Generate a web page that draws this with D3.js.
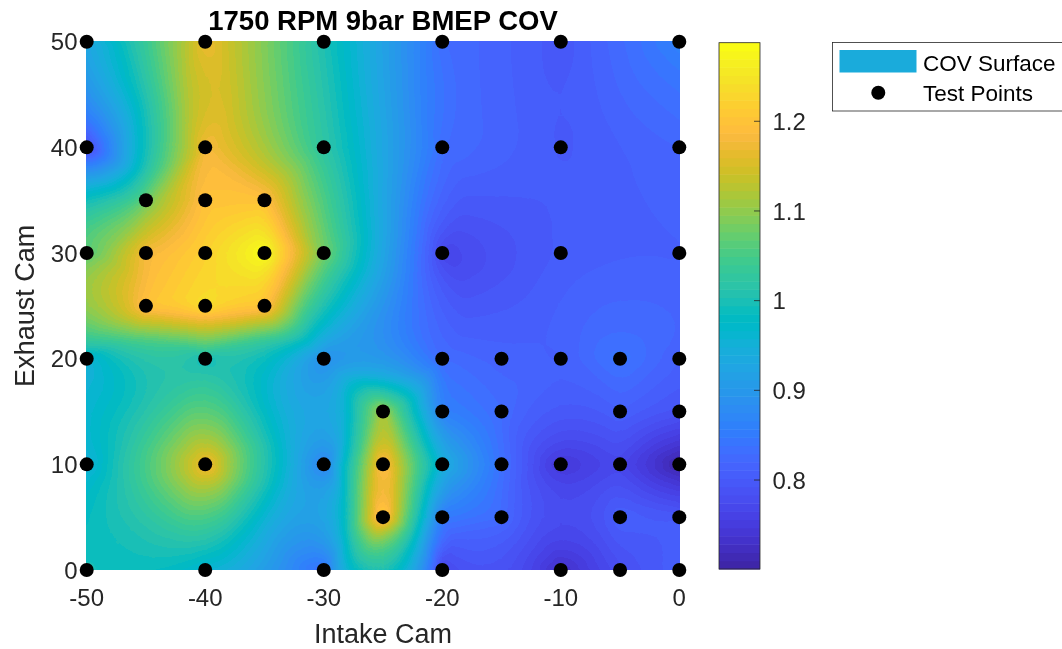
<!DOCTYPE html>
<html>
<head>
<meta charset="utf-8">
<script src="https://cdn.jsdelivr.net/npm/d3@7"></script>
<style>
  html, body { margin: 0; padding: 0; background: #fff; }
  #wrap { position: relative; width: 1062px; height: 649px; overflow: hidden; }
  #surf, #ov { position: absolute; left: 0; top: 0; }
  text { font-family: "Liberation Sans", Arial, Helvetica, sans-serif; }
</style>
</head>
<body>
<div id="wrap">
  <canvas id="surf" width="1062" height="649"></canvas>
  <svg id="ov" width="1062" height="649"></svg>
</div>
<script>
// ---------------- DATA ----------------
const intakeCam = [
  -50, -40, -30, -20, -10, 0,
  -50, -40, -30, -20, -10, 0,
  -45, -40, -35,
  -50, -45, -40, -35, -30, -20, -10, 0,
  -45, -40, -35,
  -50, -40, -30, -20, -15, -10, -5, 0,
  -25, -20, -15, -5, 0,
  -50, -40, -30, -25, -20, -15, -10, -5, 0,
  -25, -20, -15, -5, 0,
  -50, -40, -30, -20, -10, -5, 0
];
const exhaustCam = [
  50, 50, 50, 50, 50, 50,
  40, 40, 40, 40, 40, 40,
  35, 35, 35,
  30, 30, 30, 30, 30, 30, 30, 30,
  25, 25, 25,
  20, 20, 20, 20, 20, 20, 20, 20,
  15, 15, 15, 15, 15,
  10, 10, 10, 10, 10, 10, 10, 10, 10,
  5, 5, 5, 5, 5,
  0, 0, 0, 0, 0, 0, 0
];
const covValues = [
  0.93, 1.17, 1.00, 0.83, 0.795, 0.865,
  0.78, 1.18, 1.02, 0.83, 0.80, 0.82,
  1.08, 1.20, 1.20,
  1.06, 1.18, 1.22, 1.2876, 1.08, 0.765, 0.805, 0.81,
  1.20, 1.24, 1.20,
  0.95, 0.995, 0.88, 0.83, 0.815, 0.81, 0.845, 0.81,
  1.12, 0.86, 0.83, 0.81, 0.79,
  0.95, 1.18, 0.855, 1.20, 0.95, 0.835, 0.742, 0.77, 0.7008,
  1.22, 0.85, 0.83, 0.81, 0.80,
  1.00, 0.95, 0.83, 0.765, 0.725, 0.78, 0.81
];
const xTicks = [-50, -40, -30, -20, -10, 0];
const yTicks = [0, 10, 20, 30, 40, 50];
const cbTicks = [0.8, 0.9, 1, 1.1, 1.2];
const titleText = "1750 RPM 9bar BMEP COV";
const xLabel = "Intake Cam";
const yLabel = "Exhaust Cam";
const legendLabels = ["COV Surface", "Test Points"];

// parula (64 entries)
const parula = [
[0.2422,0.1504,0.6603],[0.2504,0.1650,0.7076],[0.2578,0.1818,0.7511],[0.2647,0.1978,0.7952],
[0.2706,0.2147,0.8364],[0.2751,0.2342,0.8710],[0.2783,0.2559,0.8991],[0.2803,0.2782,0.9221],
[0.2813,0.3006,0.9414],[0.2810,0.3228,0.9579],[0.2795,0.3447,0.9717],[0.2760,0.3667,0.9829],
[0.2699,0.3892,0.9906],[0.2602,0.4123,0.9952],[0.2440,0.4358,0.9988],[0.2206,0.4603,0.9973],
[0.1963,0.4847,0.9892],[0.1834,0.5074,0.9798],[0.1786,0.5289,0.9682],[0.1764,0.5499,0.9520],
[0.1687,0.5703,0.9359],[0.1540,0.5902,0.9218],[0.1460,0.6091,0.9079],[0.1380,0.6276,0.8973],
[0.1248,0.6459,0.8883],[0.1113,0.6635,0.8763],[0.0952,0.6798,0.8598],[0.0689,0.6948,0.8394],
[0.0297,0.7082,0.8163],[0.0036,0.7203,0.7917],[0.0067,0.7312,0.7660],[0.0433,0.7411,0.7394],
[0.0964,0.7500,0.7120],[0.1408,0.7584,0.6842],[0.1717,0.7670,0.6554],[0.1938,0.7758,0.6251],
[0.2161,0.7843,0.5923],[0.2470,0.7918,0.5567],[0.2906,0.7973,0.5188],[0.3406,0.8008,0.4789],
[0.3909,0.8029,0.4354],[0.4456,0.8024,0.3909],[0.5044,0.7993,0.3480],[0.5616,0.7942,0.3045],
[0.6174,0.7876,0.2612],[0.6720,0.7793,0.2227],[0.7242,0.7698,0.1910],[0.7738,0.7598,0.1646],
[0.8203,0.7498,0.1535],[0.8634,0.7406,0.1596],[0.9035,0.7330,0.1774],[0.9393,0.7288,0.2100],
[0.9728,0.7298,0.2394],[0.9956,0.7434,0.2371],[0.9970,0.7659,0.2199],[0.9952,0.7893,0.2028],
[0.9892,0.8136,0.1885],[0.9786,0.8386,0.1766],[0.9676,0.8639,0.1643],[0.9610,0.8890,0.1537],
[0.9597,0.9135,0.1423],[0.9628,0.9373,0.1265],[0.9691,0.9606,0.1064],[0.9769,0.9839,0.0805]
].map(c => c.map(v => Math.round(v * 255)));

// ---------------- LAYOUT ----------------
const plot = { x0: 86.7, x1: 679.3, y0: 41.7, y1: 570 };
const cb = { x: 719, y: 42.7, w: 41, h: 526.3 };
const TXT = "#262626";

const xScale = d3.scaleLinear().domain([-50, 0]).range([plot.x0, plot.x1]);
const yScale = d3.scaleLinear().domain([0, 50]).range([plot.y1, plot.y0]);
const clim = d3.extent(covValues);
const cScale = d3.scaleLinear().domain(clim).range([0, 64]);
const cbScale = d3.scaleLinear().domain(clim).range([cb.y + cb.h, cb.y]);
const colorIndex = v => Math.max(0, Math.min(63, Math.floor(cScale(v))));
const rgbStr = c => `rgb(${c[0]},${c[1]},${c[2]})`;

// ---------------- NATURAL-NEIGHBOUR SURFACE (discrete Sibson) ----------------
const xDom = xScale.domain(), yDom = yScale.domain();
const step = 0.2;
const NX = Math.round((xDom[1] - xDom[0]) / step) + 1;
const NY = Math.round((yDom[1] - yDom[0]) / step) + 1;
const sum = new Float64Array(NX * NY), cnt = new Float64Array(NX * NY);
const nSites = covValues.length;
for (let j = 0; j < NY; j++) {
  const py = yDom[0] + j * step;
  for (let i = 0; i < NX; i++) {
    const px = xDom[0] + i * step;
    let best = Infinity, bi = 0;
    for (let s = 0; s < nSites; s++) {
      const dx = intakeCam[s] - px, dy = exhaustCam[s] - py;
      const d2 = dx * dx + dy * dy;
      if (d2 < best) { best = d2; bi = s; }
    }
    const rc = Math.sqrt(best) / step;
    const r2 = rc * rc + 1e-9;
    const R = Math.floor(rc);
    const v = covValues[bi];
    const j0 = Math.max(0, j - R), j1 = Math.min(NY - 1, j + R);
    for (let jj = j0; jj <= j1; jj++) {
      const dj = jj - j;
      const rem = r2 - dj * dj;
      if (rem < 0) continue;
      const w = Math.floor(Math.sqrt(rem));
      const i0 = Math.max(0, i - w), i1 = Math.min(NX - 1, i + w);
      const base = jj * NX;
      for (let ii = i0; ii <= i1; ii++) { sum[base + ii] += v; cnt[base + ii] += 1; }
    }
  }
}
const grid = new Float64Array(NX * NY);
for (let k = 0; k < grid.length; k++) grid[k] = sum[k] / cnt[k];
for (let s = 0; s < nSites; s++) {
  const i = Math.round((intakeCam[s] - xDom[0]) / step), j = Math.round((exhaustCam[s] - yDom[0]) / step);
  grid[j * NX + i] = covValues[s];
}
function sampleGrid(xd, yd) {
  let fx = (xd - xDom[0]) / step, fy = (yd - yDom[0]) / step;
  fx = Math.max(0, Math.min(NX - 1.000001, fx));
  fy = Math.max(0, Math.min(NY - 1.000001, fy));
  const i = Math.floor(fx), j = Math.floor(fy), tx = fx - i, ty = fy - j;
  const a = grid[j * NX + i], b = grid[j * NX + i + 1];
  const c = grid[(j + 1) * NX + i], d = grid[(j + 1) * NX + i + 1];
  return (a * (1 - tx) + b * tx) * (1 - ty) + (c * (1 - tx) + d * tx) * ty;
}

const canvas = document.getElementById("surf");
const ctx = canvas.getContext("2d");
const W = canvas.width, H = canvas.height;
const img = ctx.createImageData(W, H);
for (let py = Math.floor(plot.y0); py < Math.ceil(plot.y1); py++) {
  for (let px = Math.floor(plot.x0); px < Math.ceil(plot.x1); px++) {
    const xd = xScale.invert(Math.min(Math.max(px + 0.5, plot.x0), plot.x1));
    const yd = yScale.invert(Math.min(Math.max(py + 0.5, plot.y0), plot.y1));
    const col = parula[colorIndex(sampleGrid(xd, yd))];
    const o = (py * W + px) * 4;
    img.data[o] = col[0]; img.data[o + 1] = col[1]; img.data[o + 2] = col[2]; img.data[o + 3] = 255;
  }
}
ctx.putImageData(img, 0, 0);

// ---------------- SVG OVERLAY ----------------
const svg = d3.select("#ov");

svg.append("g").selectAll("circle")
  .data(intakeCam.map((x, i) => [x, exhaustCam[i]]))
  .join("circle")
  .attr("cx", d => xScale(d[0]))
  .attr("cy", d => yScale(d[1]))
  .attr("r", 7)
  .attr("fill", "#000");

svg.append("g").selectAll("text").data(xTicks).join("text")
  .attr("x", d => xScale(d)).attr("y", 606)
  .attr("text-anchor", "middle").attr("font-size", 24).attr("fill", TXT)
  .text(d => d);

svg.append("g").selectAll("text").data(yTicks).join("text")
  .attr("x", 77.5).attr("y", d => yScale(d) + 8.6)
  .attr("text-anchor", "end").attr("font-size", 24).attr("fill", TXT)
  .text(d => d);

svg.append("text").attr("x", (plot.x0 + plot.x1) / 2).attr("y", 643)
  .attr("text-anchor", "middle").attr("font-size", 27).attr("fill", TXT).text(xLabel);
svg.append("text")
  .attr("transform", `translate(33.5,${(plot.y0 + plot.y1) / 2}) rotate(-90)`)
  .attr("text-anchor", "middle").attr("font-size", 27).attr("fill", TXT).text(yLabel);

svg.append("text").attr("x", (plot.x0 + plot.x1) / 2).attr("y", 30)
  .attr("text-anchor", "middle").attr("font-size", 27.5).attr("font-weight", "bold")
  .attr("fill", "#000").text(titleText);

const cbG = svg.append("g");
const bandStep = (clim[1] - clim[0]) / 64;
cbG.selectAll("rect.band").data(d3.range(64)).join("rect")
  .attr("class", "band")
  .attr("x", cb.x)
  .attr("y", i => cbScale(clim[0] + (i + 1) * bandStep))
  .attr("width", cb.w)
  .attr("height", i => cbScale(clim[0] + i * bandStep) - cbScale(clim[0] + (i + 1) * bandStep) + 0.5)
  .attr("fill", i => rgbStr(parula[i]));
cbG.append("rect").attr("x", cb.x).attr("y", cb.y).attr("width", cb.w).attr("height", cb.h)
  .attr("fill", "none").attr("stroke", TXT).attr("stroke-width", 0.8);
cbG.selectAll("line").data(cbTicks).join("line")
  .attr("x1", cb.x + cb.w - 6).attr("x2", cb.x + cb.w)
  .attr("y1", d => cbScale(d)).attr("y2", d => cbScale(d))
  .attr("stroke", TXT).attr("stroke-width", 0.8);
cbG.selectAll("text").data(cbTicks).join("text")
  .attr("x", 772.5).attr("y", d => cbScale(d) + 8.6)
  .attr("font-size", 24).attr("fill", TXT)
  .text(d => d);

const lg = svg.append("g");
lg.append("rect").attr("x", 832.5).attr("y", 42.5).attr("width", 260).attr("height", 68.5)
  .attr("fill", "#fff").attr("stroke", TXT).attr("stroke-width", 0.8);
lg.append("rect").attr("x", 839.5).attr("y", 50).attr("width", 77).attr("height", 22.5)
  .attr("fill", "#1aabdb");
lg.append("circle").attr("cx", 878.3).attr("cy", 92.7).attr("r", 7).attr("fill", "#000");
lg.selectAll("text").data(legendLabels).join("text")
  .attr("x", 923).attr("y", (d, i) => 70.5 + i * 30)
  .attr("font-size", 22.5).attr("fill", "#000")
  .text(d => d);
</script>
</body>
</html>
